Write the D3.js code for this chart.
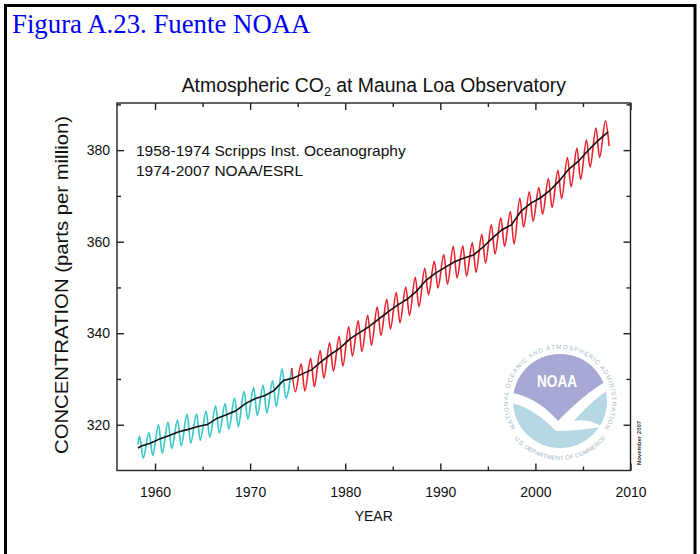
<!DOCTYPE html>
<html><head><meta charset="utf-8">
<script src="https://cdn.jsdelivr.net/npm/d3@7"></script>
<style>html,body{margin:0;padding:0;background:#fff;} svg{display:block;}</style>
</head><body>
<svg id="chart" width="700" height="554"></svg>
<script>
// ---------------- DATA ----------------
const cycleYears = [1958,1959,1960,1961,1962,1963,1964,1965,1966,1967,1968,1969,1970,1971,1972,1973,1974,1975,1976,1977,1978,1979,1980,1981,1982,1983,1984,1985,1986,1987,1988,1989,1990,1991,1992,1993,1994,1995,1996,1997,1998,1999,2000,2001,2002,2003,2004,2005,2006,2007];
// seasonal maximum (about May) of each year, ppm
const peakValues = [317.5,318.3,320.0,320.6,321.0,322.3,322.4,322.9,324.1,324.6,325.8,327.3,328.1,328.6,329.6,332.2,332.4,333.3,334.5,336.2,337.9,339.3,341.4,342.7,343.9,345.7,347.4,348.9,350.1,352.2,354.2,355.7,357.2,359.0,359.1,359.8,361.6,363.7,365.2,366.6,369.5,370.9,371.8,373.8,375.6,378.4,380.4,382.2,384.8,386.4];
// seasonal minimum (about Sep/Oct) of each year, ppm
const troughValues = [312.7,313.3,313.8,314.8,315.4,316.0,316.6,317.3,318.2,319.1,319.6,321.2,322.0,322.6,324.0,325.8,327.2,327.4,328.3,330.2,331.7,332.8,335.0,336.0,337.4,339.5,340.9,342.3,343.9,345.8,348.4,349.9,350.7,352.1,352.5,353.3,355.3,357.3,359.0,359.5,363.2,364.5,366.0,367.5,369.4,372.0,373.6,376.3,378.4,380.9];
const peakPhase = 0.37, troughPhase = 0.75;   // fraction of year of May max / autumn min
const firstMonthly = [1958.2, 315.7];         // March 1958
const handover = 1974.37;                      // Scripps -> NOAA (May 1974)
// deseasonalized trend (annual means), ppm
const trendTimes = [1958.2,1958.5,1959.5,1960.5,1961.5,1962.5,1963.5,1964.5,1965.5,1966.5,1967.5,1968.5,1969.5,1970.5,1971.5,1972.5,1973.5,1974.5,1975.5,1976.5,1977.5,1978.5,1979.5,1980.5,1981.5,1982.5,1983.5,1984.5,1985.5,1986.5,1987.5,1988.5,1989.5,1990.5,1991.5,1992.5,1993.5,1994.5,1995.5,1996.5,1997.5,1998.5,1999.5,2000.5,2001.5,2002.5,2003.5,2004.5,2005.5,2006.5,2007.65];
const trendValues = [314.9,315.3,315.97,316.91,317.64,318.45,318.99,319.62,320.04,321.38,322.16,323.04,324.62,325.68,326.32,327.45,329.68,330.18,331.11,332.04,333.83,335.40,336.84,338.75,340.11,341.45,343.05,344.65,346.12,347.42,349.19,351.57,353.12,354.39,355.61,356.45,357.10,358.83,360.82,362.61,363.73,366.70,368.38,369.55,371.14,373.28,375.80,377.52,379.80,381.90,384.0];
const xMajor = [1960,1970,1980,1990,2000,2010];
const xMinor = [1965,1975,1985,1995,2005];
const yMajor = [320,340,360,380];
const yMinor = [330,350,370,390];
const figLabel = "Figura A.23. Fuente NOAA";
const legendLines = ["1958-1974 Scripps Inst. Oceanography","1974-2007 NOAA/ESRL"];

// ---------------- DRAW ----------------
const svg = d3.select('#chart');
const SANS = "'Liberation Sans', Arial, Helvetica, sans-serif";

svg.append('rect').attr('x',5.5).attr('y',5.5).attr('width',689.5).attr('height',570)
  .attr('fill','none').attr('stroke','#000').attr('stroke-width',3);

svg.append('text').attr('x',12).attr('y',33).text(figLabel)
  .attr('font-family',"'Liberation Serif','Times New Roman',serif").attr('font-size',26.8).attr('fill','#0000f0');

const x = d3.scaleLinear().domain([1956,2010]).range([117,630.5]);
const y = d3.scaleLinear().domain([310,390.3]).range([470.5,103]);
const [x0,x1] = x.range(), [y0,y1] = y.range();

// title
const t = svg.append('text').attr('x',(x0+x1)/2).attr('y',92).attr('text-anchor','middle')
  .attr('font-family',SANS).attr('font-size',19.4).attr('fill','#111');
t.append('tspan').text('Atmospheric CO');
t.append('tspan').text('2').attr('font-size',12.5).attr('dy',4);
t.append('tspan').text(' at Mauna Loa Observatory').attr('dy',-4);

// NOAA logo
const defs = svg.append('defs');
const R = 47, LCX = 560, LCY = 401;
defs.append('clipPath').attr('id','logoClip').append('circle').attr('r',R);
const logo = svg.append('g').attr('transform',`translate(${LCX},${LCY})`);
logo.append('circle').attr('r',R).attr('fill','#b5d8e4');
const inner = logo.append('g').attr('clip-path','url(#logoClip)');
inner.append('path').attr('d','M-60,-60 L60,-60 L60,-26 C38,-18 18,0 -2,20 C-14,6 -32,-8 -60,-10 Z').attr('fill','#a8a8d4');
inner.append('path').attr('d','M-60,-10 C-32,-8 -14,6 -2,20 C18,0 38,-18 60,-26 L60,-18 C40,-8 24,8 14,20 C24,18 34,20 42,26 C28,28 12,30 -4,30 C-18,16 -34,2 -60,0 Z').attr('fill','#fff');
logo.append('text').attr('x',-3).attr('y',-14).attr('text-anchor','middle')
  .attr('font-family',SANS).attr('font-weight','bold').attr('font-size',16)
  .attr('textLength',40).attr('lengthAdjust','spacingAndGlyphs').attr('fill','#fff').text('NOAA');

// ring lettering, one glyph per text so that boxes stay small
const ctx = document.createElement('canvas').getContext('2d');
function ringText(str, r, a0, a1, fs, bottom){
  ctx.font = `${fs}px 'Liberation Sans', Arial`;
  const w = str.split('').map(c=>ctx.measureText(c).width);
  const tot = d3.sum(w);
  let acc = 0;
  str.split('').forEach((c,i)=>{
    const mid = (acc + w[i]/2)/tot; acc += w[i];
    const a = a0 + (a1-a0)*mid;
    const tr = bottom ? `rotate(${a-180}) translate(0,${r})` : `rotate(${a}) translate(0,${-r})`;
    if (c !== ' ') logo.append('text').attr('transform',tr).attr('text-anchor','middle')
      .attr('font-family',SANS).attr('font-size',fs).attr('fill','#a4b6c6').text(c);
  });
}
ringText('NATIONAL OCEANIC AND ATMOSPHERIC ADMINISTRATION', 52, -122, 122, 6.2, false);
ringText('U.S. DEPARTMENT OF COMMERCE', 59, 231, 129, 6.0, true);

svg.append('text').attr('transform','translate(641,443) rotate(-90)').attr('text-anchor','middle')
  .attr('font-family',SANS).attr('font-size',6).attr('font-weight','bold').attr('fill','#333').text('November 2007');

// frame
svg.append('rect').attr('x',x0).attr('y',y1).attr('width',x1-x0).attr('height',y0-y1)
  .attr('fill','none').attr('stroke','#222').attr('stroke-width',1.4);

function styleAxis(g){
  g.select('.domain').remove();
  g.selectAll('line').attr('stroke','#222').attr('stroke-width',1.4);
  g.selectAll('text').attr('font-family',SANS).attr('font-size',14).attr('fill','#111');
}
svg.append('g').attr('transform',`translate(0,${y0})`)
  .call(d3.axisBottom(x).tickValues(xMajor).tickSize(-7).tickPadding(16.5).tickFormat(d3.format('d'))).call(styleAxis);
svg.append('g').attr('transform',`translate(0,${y0})`)
  .call(d3.axisBottom(x).tickValues(xMinor).tickSize(-4).tickFormat('')).call(styleAxis);
svg.append('g').attr('transform',`translate(0,${y1})`)
  .call(d3.axisTop(x).tickValues(xMajor).tickSize(-7).tickFormat('')).call(styleAxis);
svg.append('g').attr('transform',`translate(0,${y1})`)
  .call(d3.axisTop(x).tickValues(xMinor).tickSize(-4).tickFormat('')).call(styleAxis);
svg.append('g').attr('transform',`translate(${x0},0)`)
  .call(d3.axisLeft(y).tickValues(yMajor).tickSize(-7).tickPadding(7).tickFormat(d3.format('d'))).call(styleAxis);
svg.append('g').attr('transform',`translate(${x0},0)`)
  .call(d3.axisLeft(y).tickValues(yMinor).tickSize(-4).tickFormat('')).call(styleAxis);
svg.append('g').attr('transform',`translate(${x1},0)`)
  .call(d3.axisRight(y).tickValues(yMajor).tickSize(-7).tickFormat('')).call(styleAxis);
svg.append('g').attr('transform',`translate(${x1},0)`)
  .call(d3.axisRight(y).tickValues(yMinor).tickSize(-4).tickFormat('')).call(styleAxis);

// axis titles
svg.append('text').attr('x',(x0+x1)/2).attr('y',521).attr('text-anchor','middle')
  .attr('font-family',SANS).attr('font-size',14).attr('fill','#111').text('YEAR');
svg.append('text').attr('transform','translate(68,285) rotate(-90)').attr('text-anchor','middle')
  .attr('font-family',SANS).attr('font-size',18).attr('textLength',338).attr('lengthAdjust','spacingAndGlyphs')
  .attr('fill','#111').text('CONCENTRATION (parts per million)');

// legend text
legendLines.forEach((s,i)=>{
  svg.append('text').attr('x',136).attr('y',156+i*20).attr('font-family',SANS)
    .attr('font-size',15.5).attr('fill','#111').text(s);
});

// monthly-like series built from the read extremes
const pts = [firstMonthly];
cycleYears.forEach((yr,i)=>{
  pts.push([yr+peakPhase, peakValues[i]]);
  pts.push([yr+troughPhase, troughValues[i]]);
});
const line = d3.line().x(d=>x(d[0])).y(d=>y(d[1])).curve(d3.curveMonotoneX);
svg.append('path').datum(pts.filter(d=>d[0]<=handover+1e-6)).attr('d',line)
  .attr('fill','none').attr('stroke','#3cc8c8').attr('stroke-width',1.7);
svg.append('path').datum(pts.filter(d=>d[0]>=handover-1e-6)).attr('d',line)
  .attr('fill','none').attr('stroke','#e8222c').attr('stroke-width',1.6);

const trend = trendTimes.map((tt,i)=>[tt,trendValues[i]]);
svg.append('path').datum(trend).attr('d',d3.line().x(d=>x(d[0])).y(d=>y(d[1])))
  .attr('fill','none').attr('stroke','#111').attr('stroke-width',1.6);
</script></body></html>
